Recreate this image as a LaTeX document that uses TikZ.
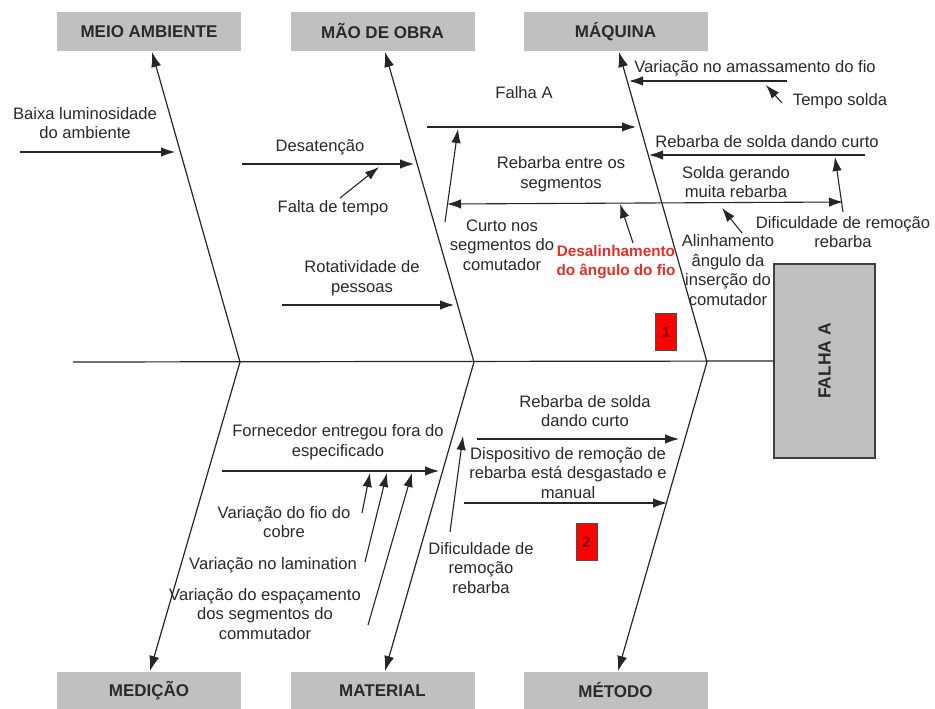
\documentclass[tikz,border=0pt]{standalone}
\usepackage{fontspec}
\setmainfont{Liberation Sans}
\usetikzlibrary{arrows.meta}
\definecolor{hdrgray}{HTML}{C0C0C0}
\definecolor{txt}{HTML}{2A2A2A}
\definecolor{redtxt}{HTML}{E0302A}
\definecolor{numtxt}{HTML}{7A0000}
\begin{document}
\begin{tikzpicture}[x=1pt,y=-1pt,
  hdr/.style={fill=hdrgray,draw=none,minimum width=184pt,inner sep=0pt,text=txt,font=\fontsize{17}{20}\selectfont\bfseries},
  lbl/.style={align=center,inner sep=0pt,text=txt,font=\fontsize{16.6}{19.6}\selectfont},
  redlbl/.style={align=center,inner sep=0pt,text=redtxt,font=\fontsize{15.3}{18.5}\selectfont\bfseries},
  bone/.style={line width=1.2pt,draw=black!85,-{Latex[length=15pt,width=10pt]}},
  arr/.style={line width=1.1pt,draw=black!85,-{Latex[length=14pt,width=9.5pt]}},
  darr/.style={line width=1.1pt,draw=black!85,{Latex[length=14pt,width=9.5pt]}-{Latex[length=14pt,width=9.5pt]}},
  numbox/.style={fill=red,draw=black!70,line width=0.9pt,minimum width=21pt,minimum height=37pt,inner sep=0pt,text=numtxt,font=\fontsize{15}{17}\selectfont\bfseries}
]
\useasboundingbox (0,0) rectangle (935,709);
\fill[white] (0,0) rectangle (935,709);

% header boxes
\node[hdr,minimum height=39pt] (meio) at (149,31.5) {MEIO AMBIENTE};
\node[hdr,minimum height=39pt] (mao) at (382.5,31.5) {MÃO DE OBRA};
\node[hdr,minimum height=39pt] (maq) at (615.5,31.5) {MÁQUINA};
\node[hdr,minimum height=37pt] (med) at (149,690.5) {MEDIÇÃO};
\node[hdr,minimum height=37pt] (mat) at (382.5,690.5) {MATERIAL};
\node[hdr,minimum height=37pt] (met) at (615.5,690.5) {MÉTODO};

% effect box
\node[fill=hdrgray,draw=black!75,line width=1.2pt,minimum width=101pt,minimum height=194pt,inner sep=0pt] (falha) at (824.5,361) {};
\node[rotate=90,inner sep=0pt,text=txt,font=\fontsize{17.5}{20}\selectfont\bfseries] (falhatxt) at (falha.center) {FALHA A};

% spine and bones
\coordinate (tail) at (73,362);
\coordinate (j1) at (240,362);
\coordinate (j2) at (474,362);
\coordinate (j3) at (707,362);
\draw[line width=1.2pt,draw=black!85] (tail) -- (falha.west);
\coordinate (t1) at (152,52);
\coordinate (t2) at (385,52);
\coordinate (t3) at (619,52);
\coordinate (b1) at (150,671);
\coordinate (b2) at (385,671);
\coordinate (b3) at (618,671);
\draw[bone] (j1) -- (t1);
\draw[bone] (j2) -- (t2);
\draw[bone] (j3) -- (t3);
\draw[bone] (j1) -- (b1);
\draw[bone] (j2) -- (b2);
\draw[bone] (j3) -- (b3);

% ---- top labels
\node[lbl] (baixa) at (85,123) {Baixa luminosidade\\do ambiente};
\node[lbl] (desat) at (320,147) {Desatenção};
\node[lbl] (falta) at (333,208) {Falta de tempo};
\node[lbl] (rotat) at (362,278) {Rotatividade de\\pessoas};
\node[lbl] (fa) at (524,93) {Falha A};
\node[lbl] (rebseg) at (561,174) {Rebarba entre os\\segmentos};
\node[lbl] (curto) at (502,245) {Curto nos\\segmentos do\\comutador};
\node[redlbl] (desal) at (616,262) {Desalinhamento\\do ângulo do fio};
\node[lbl] (varam) at (755,68) {Variação no amassamento do fio};
\node[lbl] (tempo) at (840,101) {Tempo solda};
\node[lbl] (rebsol) at (767,142) {Rebarba de solda dando curto};
\node[lbl] (solda) at (736,182) {Solda gerando\\muita rebarba};
\node[lbl] (dific) at (843,232) {Dificuldade de remoção\\rebarba};
\node[lbl] (alinh) at (728,270) {Alinhamento\\ângulo da\\inserção do\\comutador};
\node[numbox] (n1) at (666,332) {1};

% ---- top arrows
\coordinate (a1s) at (20,152);   \coordinate (a1e) at (175,152);
\coordinate (a2s) at (242,164);  \coordinate (a2e) at (414,164);
\coordinate (a3s) at (340,198);  \coordinate (a3e) at (379,167);
\coordinate (a4s) at (282,305);  \coordinate (a4e) at (454,305);
\coordinate (a5s) at (427,127);  \coordinate (a5e) at (636,127);
\coordinate (a6s) at (445,222);  \coordinate (a6e) at (458,129);
\coordinate (a7s) at (447,204);  \coordinate (a7e) at (843,202);
\coordinate (a8s) at (633,243);  \coordinate (a8e) at (620,204);
\coordinate (a9s) at (787,81);   \coordinate (a9e) at (629,81);
\coordinate (a10s) at (782,103); \coordinate (a10e) at (766,85);
\coordinate (a11s) at (865,155); \coordinate (a11e) at (649,155);
\coordinate (a12s) at (843,212); \coordinate (a12e) at (835,157);
\coordinate (a13s) at (742,233); \coordinate (a13e) at (722,208);
\draw[arr] (a1s) -- (a1e);
\draw[arr] (a2s) -- (a2e);
\draw[arr] (a3s) -- (a3e);
\draw[arr] (a4s) -- (a4e);
\draw[arr] (a5s) -- (a5e);
\draw[arr] (a6s) -- (a6e);
\draw[darr] (a7s) -- (a7e);
\draw[arr] (a8s) -- (a8e);
\draw[arr] (a9s) -- (a9e);
\draw[arr] (a10s) -- (a10e);
\draw[arr] (a11s) -- (a11e);
\draw[arr] (a12s) -- (a12e);
\draw[arr] (a13s) -- (a13e);

% ---- bottom labels
\node[lbl] (fornec) at (338,442) {Fornecedor entregou fora do\\especificado};
\node[lbl] (varfio) at (284,522) {Variação do fio do\\cobre};
\node[lbl] (varlam) at (273,565) {Variação no lamination};
\node[lbl] (varesp) at (265,614) {Variação do espaçamento\\dos segmentos do\\commutador};
\node[lbl] (rebsol2) at (585,411) {Rebarba de solda\\dando curto};
\node[lbl] (disp) at (568,473) {Dispositivo de remoção de\\rebarba está desgastado e\\manual};
\node[lbl] (dific2) at (481,568) {Dificuldade de\\remoção\\rebarba};
\node[numbox] (n2) at (586.5,542) {2};

% ---- bottom arrows
\coordinate (c1s) at (222,471); \coordinate (c1e) at (439,471);
\coordinate (c2s) at (362,513); \coordinate (c2e) at (370,473);
\coordinate (c3s) at (365,562); \coordinate (c3e) at (387,473);
\coordinate (c4s) at (368,625); \coordinate (c4e) at (412,473);
\coordinate (c5s) at (477,439); \coordinate (c5e) at (679,439);
\coordinate (c6s) at (464,503); \coordinate (c6e) at (667,503);
\coordinate (c7s) at (450,532); \coordinate (c7e) at (463,436);
\draw[arr] (c1s) -- (c1e);
\draw[arr] (c2s) -- (c2e);
\draw[arr] (c3s) -- (c3e);
\draw[arr] (c4s) -- (c4e);
\draw[arr] (c5s) -- (c5e);
\draw[arr] (c6s) -- (c6e);
\draw[arr] (c7s) -- (c7e);
\end{tikzpicture}
\end{document}
